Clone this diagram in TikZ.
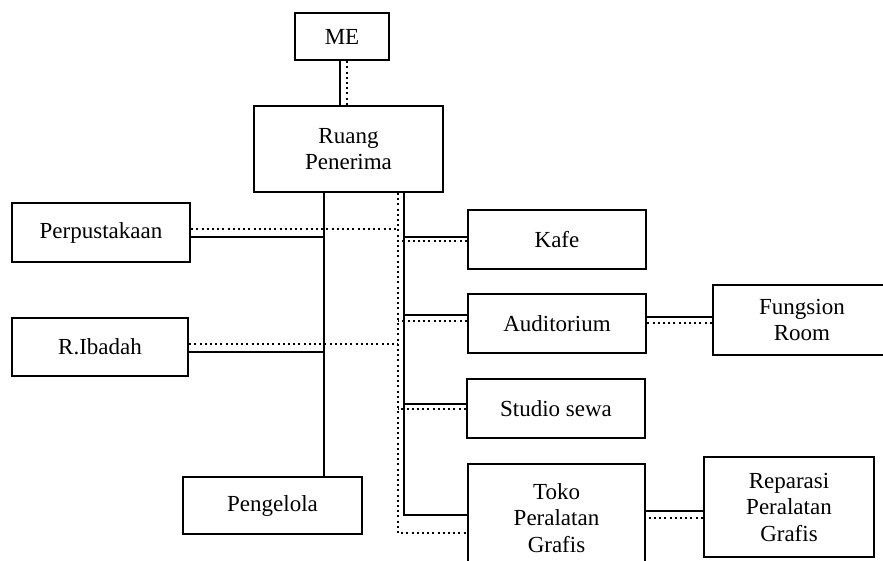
\documentclass[tikz,border=0pt]{standalone}
\usepackage{fontspec}
\setmainfont{Liberation Serif}
\begin{document}
\begin{tikzpicture}[x=1pt,y=-1pt,
  room/.style={draw, line width=2.4pt, inner sep=0pt, align=center,
    font=\fontsize{23}{26.5}\selectfont},
  link/.style={line width=2.2pt},
  dotlink/.style={line width=2.2pt, dash pattern=on 2pt off 3.2pt}]
\useasboundingbox (0,0) rectangle (883,561);
\fill[white] (0,0) rectangle (883,561);
\clip (0,0) rectangle (883,561);

% rooms
\node[room, minimum width=94pt,  minimum height=47pt]  (me)     at (342,36.5)  {ME};
\node[room, minimum width=189pt, minimum height=86pt]  (ruang)  at (348.5,149) {Ruang\\Penerima};
\node[room, minimum width=178pt, minimum height=59pt]  (perp)   at (101,232.5) {Perpustakaan};
\node[room, minimum width=176pt, minimum height=58pt]  (ibadah) at (100,347)   {R.Ibadah};
\node[room, minimum width=179pt, minimum height=57pt]  (peng)   at (272.5,505.5) {Pengelola};
\node[room, minimum width=178pt, minimum height=59pt]  (kafe)   at (557,239.5) {Kafe};
\node[room, minimum width=178pt, minimum height=59pt]  (audit)  at (557,323.5) {Auditorium};
\node[room, minimum width=178pt, minimum height=70pt]  (fung)   at (802,320)   {Fungsion\\Room};
\node[room, minimum width=178pt, minimum height=59pt]  (studio) at (556,408.5) {Studio sewa};
\node[room, minimum width=177pt, minimum height=108pt] (toko)   at (556.5,518) {Toko\\Peralatan\\Grafis};
\node[room, minimum width=170pt, minimum height=100pt] (rep)    at (789,507)   {Reparasi\\Peralatan\\Grafis};

% bus lines leaving the reception
\coordinate (lbus) at (324,193);
\coordinate (rbus) at (404,193);
\coordinate (rdot) at (398,193);

\draw[link]    ([xshift=-2pt]me.south) coordinate (m1) -- (m1 |- ruang.north);
\draw[dotlink] ([xshift=5pt]me.south)  coordinate (m2) -- (m2 |- ruang.north);

\draw[link] (lbus) -- (lbus |- peng.north);
\draw[link] (rbus) |- ([yshift=3pt]toko.west);
\draw[dotlink] (rdot) |- ([yshift=-15pt]toko.west);

% left wing
\draw[link]    ([yshift=-4.5pt]perp.east) coordinate (p1) -- (p1 -| lbus);
\draw[dotlink] ([yshift=3.5pt]perp.east)  coordinate (p2) -- (p2 -| rdot);
\draw[link]    ([yshift=-5pt]ibadah.east) coordinate (i1) -- (i1 -| lbus);
\draw[dotlink] ([yshift=3pt]ibadah.east)  coordinate (i2) -- (i2 -| rdot);

% right wing
\draw[link]    ([yshift=2.5pt]kafe.west)    coordinate (k1) -- (k1 -| rbus);
\draw[dotlink] ([yshift=-1.5pt]kafe.west)   coordinate (k2) -- (k2 -| rdot);
\draw[link]    ([yshift=8.5pt]audit.west)   coordinate (a1) -- (a1 -| rbus);
\draw[dotlink] ([yshift=2.5pt]audit.west)   coordinate (a2) -- (a2 -| rdot);
\draw[link]    ([yshift=4.5pt]studio.west)  coordinate (s1) -- (s1 -| rbus);
\draw[dotlink] ([yshift=-0.5pt]studio.west) coordinate (s2) -- (s2 -| rdot);

% secondary rooms
\draw[link]    ([yshift=3pt]fung.west)  coordinate (f1) -- (f1 -| audit.east);
\draw[dotlink] ([yshift=-3pt]fung.west) coordinate (f2) -- (f2 -| audit.east);
\draw[link]    ([yshift=-4pt]rep.west)  coordinate (r1) -- (r1 -| toko.east);
\draw[dotlink] ([yshift=-11pt]rep.west) coordinate (r2) -- (r2 -| toko.east);
\end{tikzpicture}
\end{document}
